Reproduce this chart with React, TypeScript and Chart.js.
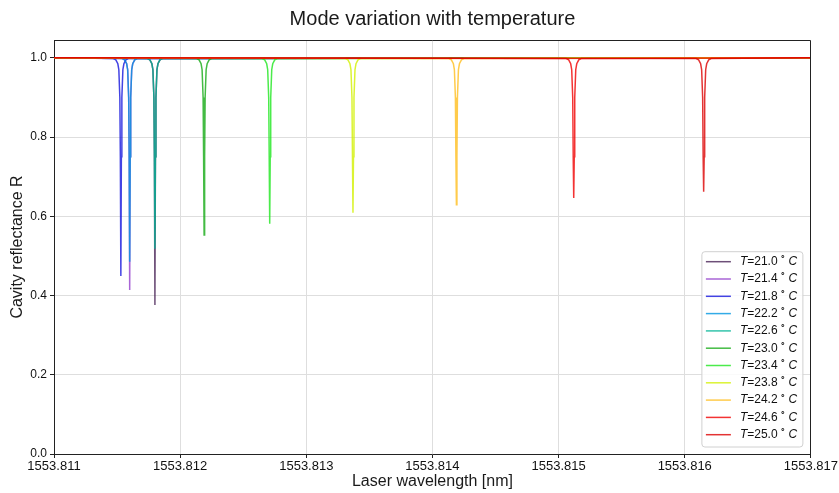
import React, { useEffect, useRef } from 'react';
import { Chart, registerables } from 'chart.js';

Chart.register(...registerables);

// ---- Data ----
const temperatures = ['21.0', '21.4', '21.8', '22.2', '22.6', '23.0', '23.4', '23.8', '24.2', '24.6', '25.0'];
// wavelength (nm) of the resonance dip for each temperature
const dipCenters = [1553.8118, 1553.8116, 1553.81153, 1553.8116, 1553.8118, 1553.81219, 1553.81271, 1553.81337, 1553.81419, 1553.81512, 1553.81615];
// minimum reflectance reached at each dip
const dipMinima = [0.376, 0.414, 0.449, 0.485, 0.518, 0.553, 0.581, 0.609, 0.629, 0.646, 0.662];
// shared dip profile (offset from centre in nm, reflectance), centre uses the minimum
const dipOffsets = [-0.00006, -0.00004, -0.000024, -0.000016, -0.000008, -0.000004, 0, 0.000004, 0.000008, 0.000016, 0.000024, 0.00004, 0.00006];
const dipShoulder = [0.998, 0.995, 0.985, 0.97, 0.9, 0.75, null, 0.75, 0.9, 0.97, 0.985, 0.995, 0.998];
const wavelengthRange = [1553.811, 1553.817];
const xTicks = [1553.811, 1553.812, 1553.813, 1553.814, 1553.815, 1553.816, 1553.817];
const yTicks = [0, 0.2, 0.4, 0.6, 0.8, 1.0];
const seriesColors = [
  'rgba(60,20,75,0.75)',
  'rgba(140,50,200,0.75)',
  'rgba(20,20,220,0.8)',
  'rgba(0,150,225,0.8)',
  'rgba(0,180,150,0.8)',
  'rgba(20,170,20,0.8)',
  'rgba(30,230,30,0.8)',
  'rgba(210,240,0,0.8)',
  'rgba(255,190,30,0.8)',
  'rgba(240,0,0,0.8)',
  'rgba(220,0,0,0.8)',
];

const FONT = "'Liberation Sans', Arial, Helvetica, sans-serif";

function buildPoints(i: number) {
  const pts: { x: number; y: number }[] = [{ x: wavelengthRange[0], y: 1 }];
  dipOffsets.forEach((off, k) => {
    const v = dipShoulder[k];
    pts.push({ x: dipCenters[i] + off, y: v === null ? dipMinima[i] : v });
  });
  pts.push({ x: wavelengthRange[1], y: 1 });
  return pts;
}

const framePlugin = {
  id: 'frame',
  afterDraw(chart: any) {
    const { ctx, chartArea: a } = chart;
    ctx.save();
    ctx.strokeStyle = '#222';
    ctx.lineWidth = 1;
    ctx.beginPath();
    const t = Math.round(a.top) + 0.5;
    const r = Math.round(a.right) - 0.5;
    ctx.moveTo(a.left, t);
    ctx.lineTo(r, t);
    ctx.lineTo(r, a.bottom);
    ctx.stroke();
    // title
    ctx.fillStyle = '#1a1a1a';
    ctx.font = `20px ${FONT}`;
    ctx.textAlign = 'center';
    ctx.textBaseline = 'middle';
    ctx.fillText('Mode variation with temperature', (a.left + a.right) / 2, 19);
    ctx.restore();
  },
};

const legendPlugin = {
  id: 'customLegend',
  afterDraw(chart: any) {
    const { ctx, chartArea: a } = chart;
    const boxRight = a.right - 8;
    const boxBottom = a.bottom - 7;
    const boxW = 101;
    const rowH = 17.3;
    const boxH = rowH * temperatures.length + 5;
    const left = boxRight - boxW;
    const top = boxBottom - boxH;
    ctx.save();
    ctx.fillStyle = 'rgba(255,255,255,0.85)';
    ctx.strokeStyle = '#d0d0d0';
    ctx.lineWidth = 1;
    ctx.beginPath();
    const rr = 3;
    ctx.moveTo(left + rr, top);
    ctx.arcTo(boxRight, top, boxRight, boxBottom, rr);
    ctx.arcTo(boxRight, boxBottom, left, boxBottom, rr);
    ctx.arcTo(left, boxBottom, left, top, rr);
    ctx.arcTo(left, top, boxRight, top, rr);
    ctx.closePath();
    ctx.fill();
    ctx.stroke();
    temperatures.forEach((t, i) => {
      const y = top + 10 + i * rowH;
      ctx.strokeStyle = seriesColors[i];
      ctx.lineWidth = 1.5;
      ctx.beginPath();
      ctx.moveTo(left + 4, y);
      ctx.lineTo(left + 29, y);
      ctx.stroke();
      let x = left + 38;
      ctx.fillStyle = '#111';
      ctx.textBaseline = 'middle';
      ctx.textAlign = 'left';
      ctx.font = `italic 12px ${FONT}`;
      ctx.fillText('T', x, y);
      x += ctx.measureText('T').width;
      ctx.font = `12px ${FONT}`;
      const s = '=' + t;
      ctx.fillText(s, x, y);
      x += ctx.measureText(s).width + 2.5;
      ctx.font = `9px ${FONT}`;
      ctx.fillText('∘', x, y - 4);
      x += ctx.measureText('∘').width + 2.5;
      ctx.font = `italic 12px ${FONT}`;
      ctx.fillText('C', x, y);
    });
    ctx.restore();
  },
};

export default function App() {
  const ref = useRef<HTMLCanvasElement>(null);
  useEffect(() => {
    if (!ref.current) return;
    const chart = new Chart(ref.current, {
      type: 'line',
      data: {
        datasets: temperatures.map((t, i) => ({
          label: `T=${t}°C`,
          data: buildPoints(i),
          borderColor: seriesColors[i],
          backgroundColor: seriesColors[i],
          borderWidth: 1.5,
          pointRadius: 0,
          fill: false,
          tension: 0,
          order: temperatures.length - i,
        })),
      },
      options: {
        animation: false,
        responsive: false,
        devicePixelRatio: 1,
        layout: { padding: { top: 40, right: 27, left: 0, bottom: 0 } },
        plugins: {
          legend: { display: false },
          title: { display: false },
          tooltip: { enabled: false },
        },
        scales: {
          x: {
            type: 'linear',
            min: wavelengthRange[0],
            max: wavelengthRange[1],
            afterBuildTicks: (scale: any) => {
              scale.ticks = xTicks.map((v) => ({ value: v }));
            },
            afterFit: (scale: any) => {
              scale.height = 39;
            },
            ticks: {
              autoSkip: false,
              maxRotation: 0,
              padding: 1,
              color: '#111',
              font: { family: FONT, size: 13 },
              callback: (v: any) => Number(v).toFixed(3),
            },
            grid: { color: '#dedede', lineWidth: 1, tickLength: 4, tickColor: '#222' },
            border: { color: '#222', width: 1 },
            title: {
              display: true,
              text: 'Laser wavelength [nm]',
              color: '#1a1a1a',
              font: { family: FONT, size: 16 },
              padding: { top: 0, bottom: 2 },
            },
          },
          y: {
            type: 'linear',
            min: 0,
            max: 1.045,
            afterBuildTicks: (scale: any) => {
              scale.ticks = yTicks.map((v) => ({ value: v }));
            },
            afterFit: (scale: any) => {
              scale.width = 54;
            },
            ticks: {
              padding: 3,
              color: '#111',
              font: { family: FONT, size: 12 },
              callback: (v: any) => Number(v).toFixed(1),
            },
            grid: { color: '#dedede', lineWidth: 1, tickLength: 4, tickColor: '#222' },
            border: { color: '#222', width: 1 },
            title: {
              display: true,
              text: 'Cavity reflectance R',
              color: '#1a1a1a',
              font: { family: FONT, size: 16 },
              padding: { top: 8, bottom: 0 },
            },
          },
        },
      },
      plugins: [framePlugin, legendPlugin],
    } as any);
    return () => chart.destroy();
  }, []);
  return (
    <div style={{ position: 'absolute', left: 0, top: 0, width: 839, height: 493, background: '#fff' }}>
      <canvas ref={ref} width={839} height={493} style={{ width: 839, height: 493, display: 'block' }} />
    </div>
  );
}
